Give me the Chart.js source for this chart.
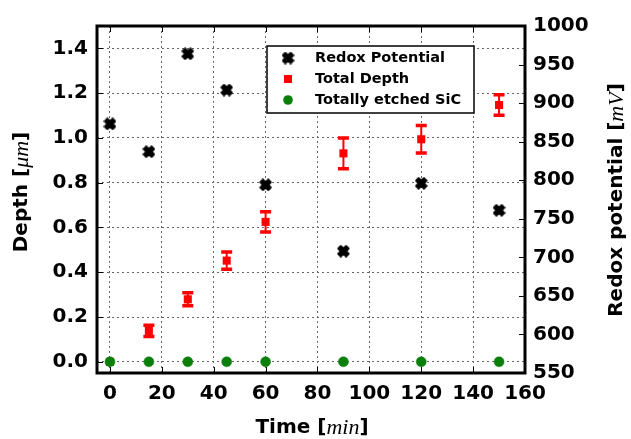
<!DOCTYPE html>
<html>
<head>
<meta charset="utf-8">
<title>Depth and redox potential vs time</title>
<script src="https://cdn.jsdelivr.net/npm/chart.js@4.4.1/dist/chart.umd.min.js"></script>
<style>
  html, body { margin: 0; padding: 0; background: #fff; }
  #chart { display: block; }
</style>
</head>
<body>
<canvas id="chart" width="631" height="439"></canvas>
<script>
// measurement times and readings
const times = [0, 15, 30, 45, 60, 90, 120, 150];
const redoxMv = [873, 837, 964, 917, 794, 708, 796, 761];
const depthUm = [0, 0.138, 0.279, 0.452, 0.625, 0.931, 0.994, 1.147];
const depthErr = [0, 0.025, 0.029, 0.039, 0.045, 0.069, 0.061, 0.046];
const etchedSic = [0, 0, 0, 0, 0, 0, 0, 0];

const timeTicks = [0, 20, 40, 60, 80, 100, 120, 140, 160];
const depthTicks = [0, 0.2, 0.4, 0.6, 0.8, 1.0, 1.2, 1.4];
const redoxTicks = [550, 600, 650, 700, 750, 800, 850, 900, 950, 1000];

const seriesNames = ['Redox Potential', 'Total Depth', 'Totally etched SiC'];
const RED = '#ff0000';
const GREEN = '#0a800a';
const FONT = '"DejaVu Sans", sans-serif';
const MATH = '"Liberation Serif", "DejaVu Serif", serif';

// filled "X" marker (a plus sign turned 45 degrees)
function xMarker(size) {
  const c = document.createElement('canvas');
  c.width = c.height = size;
  const g = c.getContext('2d');
  const pts = [[-1,-3],[1,-3],[1,-1],[3,-1],[3,1],[1,1],[1,3],[-1,3],[-1,1],[-3,1],[-3,-1],[-1,-1]];
  const h = size / 2;
  const s = (h - 1.2) / (4 / Math.SQRT2);
  g.beginPath();
  pts.forEach(([px, py], i) => {
    const rx = (px - py) / Math.SQRT2 * s + h;
    const ry = (px + py) / Math.SQRT2 * s + h;
    if (i === 0) g.moveTo(rx, ry); else g.lineTo(rx, ry);
  });
  g.closePath();
  g.fillStyle = '#000';
  g.fill();
  g.lineJoin = 'round';
  g.lineWidth = 1.8;
  g.strokeStyle = '#000';
  g.stroke();
  return c;
}
const xImg = xMarker(13);

const toPoints = (ys) => times.map((t, i) => ({ x: t, y: ys[i] }));

// error bars for the depth series, drawn under its markers
const errorBars = {
  id: 'errorBars',
  beforeDatasetsDraw(chart) {
    const { ctx, scales } = chart;
    const x = scales.x, y = scales.y;
    ctx.save();
    ctx.strokeStyle = RED;
    times.forEach((t, i) => {
      if (!depthErr[i]) return;
      const px = x.getPixelForValue(t);
      const top = y.getPixelForValue(depthUm[i] + depthErr[i]);
      const bot = y.getPixelForValue(depthUm[i] - depthErr[i]);
      ctx.lineWidth = 2;
      ctx.beginPath();
      ctx.moveTo(px, top);
      ctx.lineTo(px, bot);
      ctx.stroke();
      ctx.lineWidth = 3.5;
      ctx.beginPath();
      ctx.moveTo(px - 5.5, top); ctx.lineTo(px + 5.5, top);
      ctx.moveTo(px - 5.5, bot); ctx.lineTo(px + 5.5, bot);
      ctx.stroke();
    });
    ctx.restore();
  }
};

function drawMixed(ctx, parts, cx, cy, rot) {
  ctx.save();
  ctx.translate(cx, cy);
  ctx.rotate(rot);
  let total = 0;
  parts.forEach(p => { ctx.font = p.font; p.w = ctx.measureText(p.text).width; total += p.w; });
  let x = -total / 2;
  ctx.textBaseline = 'middle';
  ctx.textAlign = 'left';
  ctx.fillStyle = '#000';
  parts.forEach(p => { ctx.font = p.font; ctx.fillText(p.text, x, 0); x += p.w; });
  ctx.restore();
}

// frame, inward ticks, legend and axis titles
const decorations = {
  id: 'decorations',
  afterDraw(chart) {
    const { ctx, chartArea: a, scales } = chart;
    ctx.save();
    ctx.strokeStyle = '#000';
    ctx.lineWidth = 1;
    ctx.beginPath();
    timeTicks.forEach(t => {
      const px = Math.round(scales.x.getPixelForValue(t)) + 0.5;
      ctx.moveTo(px, a.bottom); ctx.lineTo(px, a.bottom - 6);
      ctx.moveTo(px, a.top); ctx.lineTo(px, a.top + 6);
    });
    depthTicks.forEach(v => {
      const py = Math.round(scales.y.getPixelForValue(v)) + 0.5;
      ctx.moveTo(a.left, py); ctx.lineTo(a.left + 6, py);
    });
    redoxTicks.forEach(v => {
      const py = Math.round(scales.y1.getPixelForValue(v)) + 0.5;
      ctx.moveTo(a.right, py); ctx.lineTo(a.right - 6, py);
    });
    ctx.stroke();

    ctx.lineWidth = 3;
    ctx.strokeRect(a.left, a.top, a.right - a.left, a.bottom - a.top);

    // legend
    const lx = 267, ly = 46, lw = 207, lh = 67;
    ctx.fillStyle = '#fff';
    ctx.fillRect(lx, ly, lw, lh);
    ctx.lineWidth = 1.5;
    ctx.strokeRect(lx, ly, lw, lh);
    const rows = [58, 79, 100];
    ctx.drawImage(xImg, 288 - 6.5, rows[0] - 6.5);
    ctx.fillStyle = RED;
    ctx.fillRect(288 - 4, rows[1] - 4, 8, 8);
    ctx.fillStyle = GREEN;
    ctx.beginPath();
    ctx.arc(288, rows[2], 4.8, 0, Math.PI * 2);
    ctx.fill();
    ctx.fillStyle = '#000';
    ctx.font = 'bold 14.5px ' + FONT;
    ctx.textBaseline = 'middle';
    seriesNames.forEach((n, i) => ctx.fillText(n, 315, rows[i]));
    ctx.restore();

    const B = 'bold 20px ' + FONT, I = 'italic 22px ' + MATH;
    drawMixed(ctx, [{ text: 'Time [', font: B }, { text: 'min', font: I }, { text: ']', font: B }], 312, 428, 0);
    drawMixed(ctx, [{ text: 'Depth [', font: B }, { text: 'μm', font: I }, { text: ']', font: B }], 22, 192, -Math.PI / 2);
    drawMixed(ctx, [{ text: 'Redox potential [', font: B }, { text: 'mV', font: I }, { text: ']', font: B }], 617, 200, -Math.PI / 2);
  }
};

const tickFont = { family: FONT, size: 20, weight: 'bold' };
const gridOpts = { color: '#666', lineWidth: 1, drawTicks: false };

new Chart(document.getElementById('chart'), {
  type: 'scatter',
  data: {
    datasets: [
      {
        label: seriesNames[2], data: toPoints(etchedSic), yAxisID: 'y', order: 0,
        pointStyle: 'circle', pointRadius: 5, backgroundColor: GREEN, borderColor: GREEN, borderWidth: 0.5
      },
      {
        label: seriesNames[1], data: toPoints(depthUm), yAxisID: 'y', order: 1,
        pointStyle: 'rect', pointRadius: 5.7, backgroundColor: RED, borderColor: RED, borderWidth: 0
      },
      {
        label: seriesNames[0], data: toPoints(redoxMv), yAxisID: 'y1', order: 2,
        pointStyle: xImg
      }
    ]
  },
  options: {
    responsive: false,
    animation: false,
    devicePixelRatio: 1,
    layout: { padding: { top: 26, left: 0, right: 0, bottom: 0 } },
    plugins: { legend: { display: false }, tooltip: { enabled: false } },
    scales: {
      x: {
        type: 'linear', min: -5, max: 160,
        afterBuildTicks: ax => { ax.ticks = timeTicks.map(v => ({ value: v })); },
        afterFit: ax => { ax.height = 66; },
        ticks: { font: tickFont, color: '#000', padding: 9, callback: v => String(v) },
        grid: gridOpts,
        border: { display: false, dash: [2, 3] }
      },
      y: {
        type: 'linear', position: 'left', min: -0.05, max: 1.5,
        afterBuildTicks: ax => { ax.ticks = depthTicks.map(v => ({ value: v })); },
        afterFit: ax => { ax.width = 97; },
        ticks: { font: tickFont, color: '#000', padding: 9, callback: v => v.toFixed(1) },
        grid: gridOpts,
        border: { display: false, dash: [2, 3] }
      },
      y1: {
        type: 'linear', position: 'right', min: 550, max: 1000,
        afterBuildTicks: ax => { ax.ticks = redoxTicks.map(v => ({ value: v })); },
        afterFit: ax => { ax.width = 106; },
        ticks: { font: tickFont, color: '#000', padding: 8, callback: v => String(v) },
        grid: { drawOnChartArea: false, drawTicks: false },
        border: { display: false }
      }
    }
  },
  plugins: [errorBars, decorations]
});
</script>
</body>
</html>
